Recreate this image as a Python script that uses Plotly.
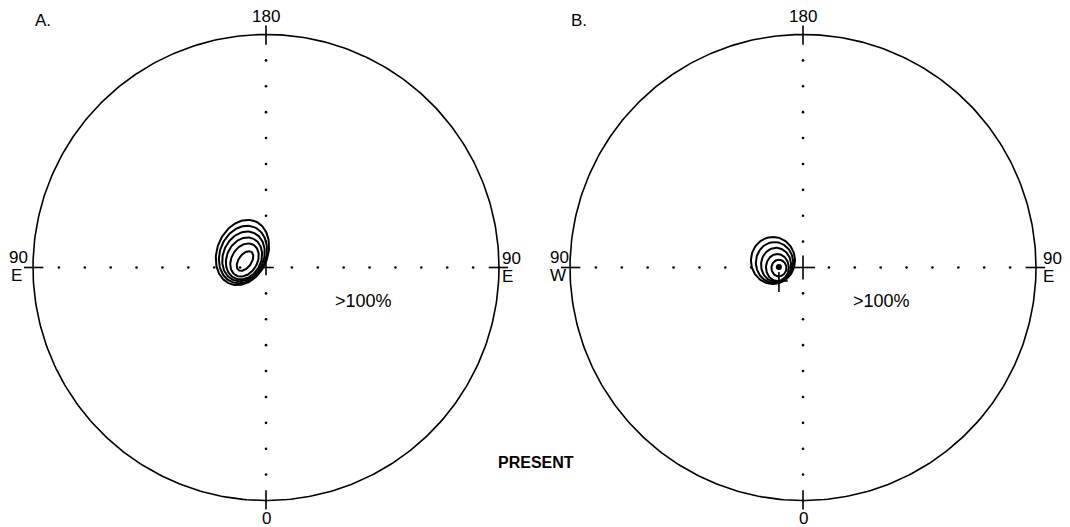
import numpy as np
import plotly.graph_objects as go

# ---------------- data (stereonet units: degrees, centre = 0, rim = 90) ----------------
NET_RADIUS = 90
GRID_STEPS = [-80, -70, -60, -50, -40, -30, -20, -10, 10, 20, 30, 40, 50, 60, 70, 80]

# panel A contour rings: centre x/y, half-width, half-height, tilt (deg)
a_cx = [-9.1, -8.9, -8.7, -8.5, -8.3, -8.1]
a_cy = [5.8, 5.0, 4.3, 3.5, 2.9, 2.5]
a_hw = [10.3, 9.3, 8.2, 7.0, 5.5, 3.2]
a_hh = [12.6, 11.1, 9.6, 8.1, 6.4, 3.8]
a_tilt = [68, 68, 66, 64, 60, 55]

# panel B contour rings
b_cx = [-11.6, -11.0, -10.4, -9.9, -9.3]
b_cy = [2.7, 1.9, 1.0, 0.0, -0.2]
b_hw = [8.5, 7.2, 5.8, 4.4, 2.9]
b_hh = [9.1, 7.9, 6.6, 5.2, 3.2]
b_tilt = [90, 90, 90, 90, 90]
b_max_x = [-9.3]
b_max_y = [0.2]

# rim labels
top_label = "180"
bottom_label = "0"
a_left = ["90", "E"]
a_right = ["90", "E"]
b_left = ["90", "W"]
b_right = ["90", "E"]
pct_label = ">100%"
panel_titles = ["A.", "B."]
caption = "PRESENT"

# page offset (browser body margin) and figure size
OFF = 8
W, H = 1070 - OFF, 527 - OFF

# ---------------- helpers ----------------
def ring(cx, cy, hw, hh, tilt):
    th = np.radians(tilt)
    k = -np.cos(2 * th)
    s = hw ** 2 + hh ** 2
    d = (hh ** 2 - hw ** 2) / k if abs(k) > 1e-6 else 0.0
    a = np.sqrt(max((s + d) / 2, 0.01))
    b = np.sqrt(max((s - d) / 2, 0.01))
    t = np.linspace(0, 2 * np.pi, 120)
    x = cx + a * np.cos(t) * np.cos(th) - b * np.sin(t) * np.sin(th)
    y = cy + a * np.cos(t) * np.sin(th) + b * np.sin(t) * np.cos(th)
    return x, y

fig = go.Figure()
LINE = "black"

def add_net(xa, ya, cxs, cys, hws, hhs, tilts, cross_arm):
    t = np.linspace(0, 2 * np.pi, 400)
    fig.add_trace(go.Scatter(x=NET_RADIUS * np.cos(t), y=NET_RADIUS * np.sin(t), mode="lines",
                             line=dict(color=LINE, width=1.6), xaxis=xa, yaxis=ya,
                             hoverinfo="skip", showlegend=False))
    gx = GRID_STEPS + [0] * len(GRID_STEPS)
    gy = [0] * len(GRID_STEPS) + GRID_STEPS
    fig.add_trace(go.Scatter(x=gx, y=gy, mode="markers", marker=dict(color=LINE, size=2.6),
                             xaxis=xa, yaxis=ya, hoverinfo="skip", showlegend=False))
    tx, ty = [], []
    for ang in [0, 90, 180, 270]:
        c, s = np.cos(np.radians(ang)), np.sin(np.radians(ang))
        tx += [86 * c, 93.5 * c, None]
        ty += [86 * s, 93.5 * s, None]
    tx += [-cross_arm, cross_arm, None, 0, 0, None]
    ty += [0, 0, None, -cross_arm, cross_arm, None]
    fig.add_trace(go.Scatter(x=tx, y=ty, mode="lines", line=dict(color=LINE, width=1.6),
                             xaxis=xa, yaxis=ya, hoverinfo="skip", showlegend=False))
    for cx, cy, hw, hh, tl in zip(cxs, cys, hws, hhs, tilts):
        x, y = ring(cx, cy, hw, hh, tl)
        fig.add_trace(go.Scatter(x=x, y=y, mode="lines", line=dict(color=LINE, width=2.0),
                                 xaxis=xa, yaxis=ya, hoverinfo="skip", showlegend=False))

add_net("x", "y", a_cx, a_cy, a_hw, a_hh, a_tilt, 3.0)
add_net("x2", "y2", b_cx, b_cy, b_hw, b_hh, b_tilt, 4.6)

fig.add_trace(go.Scatter(x=b_max_x, y=b_max_y, mode="markers", marker=dict(color=LINE, size=6),
                         xaxis="x2", yaxis="y2", hoverinfo="skip", showlegend=False))
bx = b_max_x[0]
fig.add_trace(go.Scatter(x=[bx, bx, None, bx - 3.4, bx + 3.4],
                         y=[-1.7, -9.5, None, -5.2, -5.2], mode="lines",
                         line=dict(color=LINE, width=1.6), xaxis="x2", yaxis="y2",
                         hoverinfo="skip", showlegend=False))

FONT = dict(family="Liberation Sans, Arial, sans-serif", size=17, color="black")
ann = []
def txt(x, y, s, xref, yref, size=17, bold=False):
    f = dict(FONT)
    f["size"] = size
    ann.append(dict(x=x, y=y, xref=xref, yref=yref, text=("<b>%s</b>" % s) if bold else s,
                    showarrow=False, font=f, xanchor="center", yanchor="middle"))

for xr, yr, left, right, lx, rx, pctx in [("x", "y", a_left, a_right, -95.6, 94.8, 37.5),
                                           ("x2", "y2", b_left, b_right, -94.2, 96.3, 30.5)]:
    txt(0, 97.1, top_label, xr, yr)
    txt(0, -96.8, bottom_label, xr, yr)
    txt(lx, 3.8, left[0], xr, yr)
    txt(lx - 0.6, -3.2, left[1], xr, yr)
    txt(rx, 3.6, right[0], xr, yr)
    txt(rx - 1.5, -3.5, right[1], xr, yr)
    txt(pctx, -13.0, pct_label, xr, yr, size=18)

def px(sx):
    return (sx - OFF) / W

def py(sy):
    return 1 - (sy - OFF) / H

txt(px(42.5), py(20.5), panel_titles[0], "paper", "paper", size=17)
txt(px(579), py(20.5), panel_titles[1], "paper", "paper", size=17)
txt(px(536), py(462), caption, "paper", "paper", size=16, bold=True)

ax_common = dict(visible=False, showgrid=False, zeroline=False, fixedrange=True)
SCALE = 233 / 90.0
fig.update_layout(
    width=W, height=H, margin=dict(l=0, r=0, t=0, b=0),
    paper_bgcolor="white", plot_bgcolor="white",
    xaxis=dict(domain=[0, px(535)], range=[(8 - 266) / SCALE, (535 - 266) / SCALE], **ax_common),
    yaxis=dict(domain=[0, 1], range=[(267.5 - 527) / SCALE, (267.5 - 8) / SCALE], **ax_common),
    xaxis2=dict(domain=[px(535), 1], range=[(535 - 803) / SCALE, (1070 - 803) / SCALE], **ax_common),
    yaxis2=dict(domain=[0, 1], range=[(267.5 - 527) / SCALE, (267.5 - 8) / SCALE], anchor="x2",
                **ax_common),
    annotations=ann, showlegend=False,
)
fig.write_html("out.html")
